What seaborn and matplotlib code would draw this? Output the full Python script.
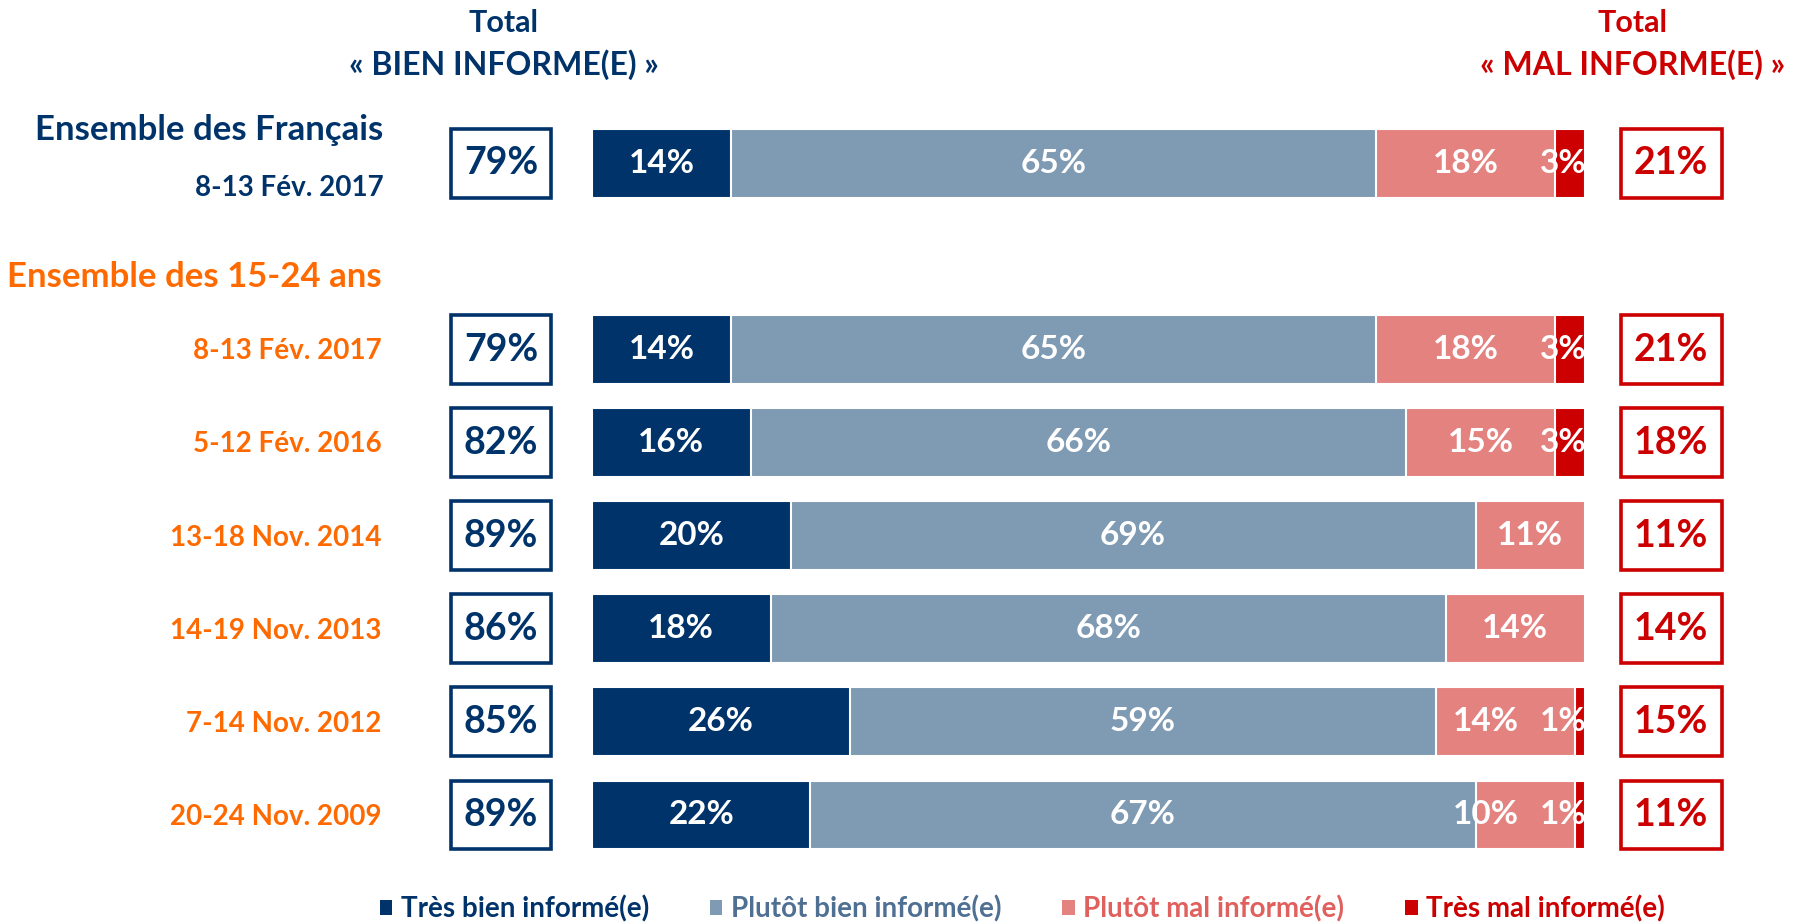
import pandas as pd
import seaborn as sns
import matplotlib.pyplot as plt
from matplotlib.patches import Rectangle, Patch

# data
rows = ["Français", "2017", "2016", "2014", "2013", "2012", "2009"]
row_labels = ["8-13 Fév. 2017", "8-13 Fév. 2017", "5-12 Fév. 2016", "13-18 Nov. 2014",
              "14-19 Nov. 2013", "7-14 Nov. 2012", "20-24 Nov. 2009"]
tres_bien = [14, 14, 16, 20, 18, 26, 22]
plutot_bien = [65, 65, 66, 69, 68, 59, 67]
plutot_mal = [18, 18, 15, 11, 14, 14, 10]
tres_mal = [3, 3, 3, 0, 0, 1, 1]
total_bien = [79, 79, 82, 89, 86, 85, 89]
total_mal = [21, 21, 18, 11, 14, 15, 11]
series_names = ["Très bien informé(e)", "Plutôt bien informé(e)",
                "Plutôt mal informé(e)", "Très mal informé(e)"]

NAVY = "#00336a"
SLATE = "#7f9ab3"
PINK = "#e48280"
RED = "#cc0000"
ORANGE = "#ff6a00"
colors = [NAVY, SLATE, PINK, RED]
legend_text_colors = [NAVY, "#4f6f93", "#e0605e", RED]

sns.set_theme(style="white")
plt.rcParams['font.family'] = ['Lato', 'DejaVu Sans']
plt.rcParams['font.weight'] = 'bold'

df = pd.DataFrame({"row": rows, "tb": tres_bien, "pb": plutot_bien,
                   "pm": plutot_mal, "tm": tres_mal})
df["c1"] = df["tb"]
df["c2"] = df["c1"] + df["pb"]
df["c3"] = df["c2"] + df["pm"]
df["c4"] = df["c3"] + df["tm"]

order = ["Français", "sep", "2017", "2016", "2014", "2013", "2012", "2009"]
ypos = {r: order.index(r) for r in rows}

fig = plt.figure(figsize=(18.03, 9.24), dpi=100)
ax = fig.add_axes([0.3283, 0.0676, 0.5507, 0.806])

bh = 0.74
for col, c in zip(["c4", "c3", "c2", "c1"], [RED, PINK, SLATE, NAVY]):
    sns.barplot(data=df, x=col, y="row", order=order, orient="h", color=c,
                saturation=1, width=bh, edgecolor="white", linewidth=1.5,
                errorbar=None, ax=ax)

ax.set_xlim(0, 100)
ax.set_ylim(len(order) - 0.5, -0.5)
ax.axis("off")

lab_fs = 24
for i, r in enumerate(rows):
    y = ypos[r]
    starts = [0, df["c1"][i], df["c2"][i], df["c3"][i]]
    vals = [tres_bien[i], plutot_bien[i], plutot_mal[i], tres_mal[i]]
    for k, (s, v) in enumerate(zip(starts, vals)):
        if v == 0:
            continue
        if v < 5:
            ax.text(100.2, y, f"{v}%", ha="right", va="center", color="white",
                    fontsize=lab_fs, fontweight="bold")
        else:
            xc = s + v / 2
            if k == 2 and tres_mal[i] > 0:
                xc = min(xc, 90.0)
            ax.text(xc, y, f"{v}%", ha="center", va="center", color="white",
                    fontsize=lab_fs, fontweight="bold")
    # total boxes
    ax.add_patch(Rectangle((-14.2, y - bh / 2), 10.1, bh, fill=False, ec=NAVY,
                           lw=2.6, clip_on=False))
    ax.text(-9.15, y, f"{total_bien[i]}%", ha="center", va="center", color=NAVY,
            fontsize=27, fontweight="bold", clip_on=False)
    ax.add_patch(Rectangle((103.6, y - bh / 2), 10.2, bh, fill=False, ec=RED,
                           lw=2.6, clip_on=False))
    ax.text(108.7, y, f"{total_mal[i]}%", ha="center", va="center", color=RED,
            fontsize=27, fontweight="bold", clip_on=False)
    # row labels
    if r == "Français":
        ax.text(-21.0, y - 0.36, "Ensemble des Français", ha="right", va="center",
                color=NAVY, fontsize=25, fontweight="bold")
        ax.text(-21.0, y + 0.26, row_labels[i], ha="right", va="center",
                color=NAVY, fontsize=20, fontweight="bold")
    else:
        ax.text(-21.2, y + 0.02, row_labels[i], ha="right", va="center",
                color=ORANGE, fontsize=20, fontweight="bold")

ax.text(-21.2, 1.22, "Ensemble des 15-24 ans", ha="right", va="center",
        color=ORANGE, fontsize=25, fontweight="bold")

# headers
fig.text(0.2795, 0.975, "Total", ha="center", va="center", color=NAVY,
         fontsize=22, fontweight="bold")
fig.text(0.2795, 0.930, "« BIEN INFORME(E) »", ha="center", va="center", color=NAVY,
         fontsize=23, fontweight="bold")
fig.text(0.9057, 0.975, "Total", ha="center", va="center", color=RED,
         fontsize=22, fontweight="bold")
fig.text(0.9057, 0.930, "« MAL INFORME(E) »", ha="center", va="center", color=RED,
         fontsize=23, fontweight="bold")

# legend
handles = [Patch(facecolor=c, edgecolor="none") for c in colors]
leg = fig.legend(handles, series_names, loc="center", bbox_to_anchor=(0.567, 0.016),
                 ncol=4, frameon=False, handlelength=0.45, handleheight=0.45,
                 handletextpad=0.3, columnspacing=2.2,
                 prop={"size": 20, "weight": "bold"})
for t, c in zip(leg.get_texts(), legend_text_colors):
    t.set_color(c)

fig.savefig("out.png", dpi=100)
